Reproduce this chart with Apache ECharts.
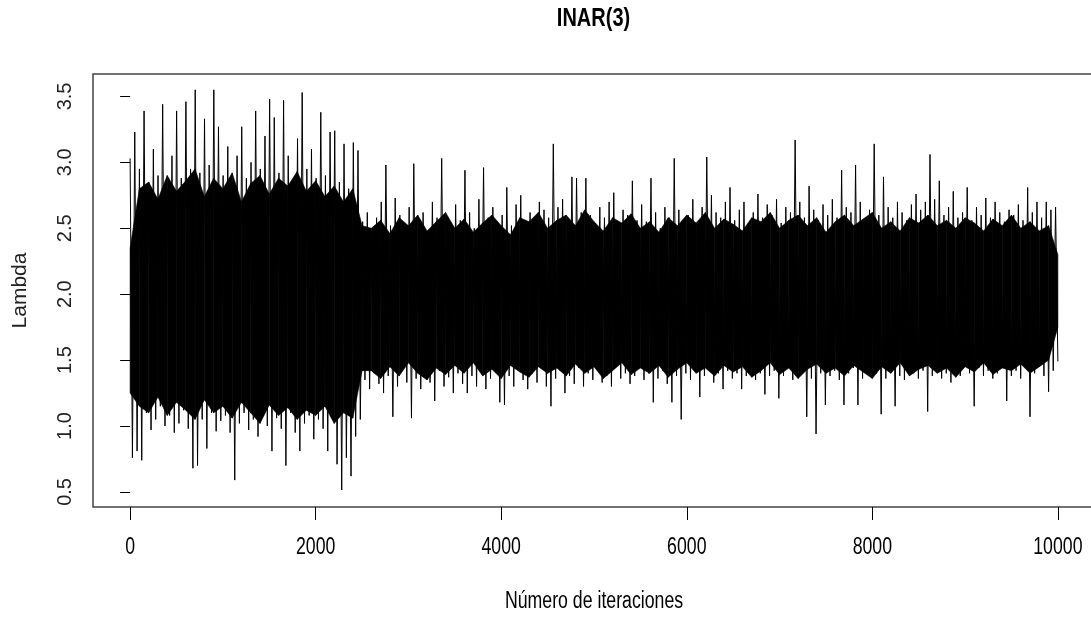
<!DOCTYPE html>
<html>
<head>
<meta charset="utf-8">
<title>INAR(3)</title>
<script src="https://cdn.jsdelivr.net/npm/echarts@6.0.0/dist/echarts.min.js"></script>
<style>
  html, body { margin: 0; padding: 0; background: #fff; }
  #chart { width: 1091px; height: 617px; }
</style>
</head>
<body>
<div id="chart"></div>
<script>
// trace of lambda: one high and one low value per 50 iterations
var upperTrace = [
  3.03, 3.23, 2.95, 3.39, 2.85, 3.10, 2.90, 3.44, 2.80, 3.05,
  3.39, 2.88, 3.46, 2.95, 3.55, 2.92, 3.33, 2.98, 3.55, 3.27,
  2.90, 3.12, 2.85, 3.05, 3.27, 2.88, 3.00, 3.39, 2.95, 3.20,
  3.48, 3.34, 2.92, 3.47, 3.05, 2.85, 3.18, 3.53, 2.95, 3.10,
  2.88, 3.38, 2.90, 3.23, 3.24, 2.85, 3.14, 2.80, 3.15, 3.09,
  2.55, 2.62, 2.48, 2.58, 2.70, 2.98, 2.52, 2.73, 2.60, 2.50,
  2.66, 2.99, 2.55, 2.62, 2.48, 2.70, 2.58, 3.03, 2.60, 2.52,
  2.68, 2.56, 2.94, 2.62, 2.50, 2.72, 2.96, 2.58, 2.66, 2.54,
  2.60, 2.81, 2.52, 2.68, 2.75, 2.56, 2.62, 2.50, 2.70, 2.64,
  2.58, 3.14, 2.66, 2.72, 2.55, 2.89, 2.88, 2.62, 2.88, 2.60,
  2.54, 2.66, 2.58, 2.70, 2.77, 2.52, 2.64, 2.60, 2.86, 2.56,
  2.68, 2.55, 2.88, 2.62, 2.50, 2.66, 2.58, 3.03, 2.64, 2.56,
  2.60, 2.72, 2.54, 2.66, 3.04, 2.75, 2.62, 2.58, 2.70, 2.81,
  2.56, 2.64, 2.70, 2.52, 2.62, 2.76, 2.58, 2.68, 2.60, 2.72,
  2.54, 2.66, 2.62, 3.17, 2.70, 2.58, 2.82, 2.64, 2.56, 2.68,
  2.60, 2.72, 2.58, 2.94, 2.66, 2.62, 2.98, 2.70, 2.56, 2.64,
  3.14, 2.60, 2.89, 2.66, 2.58, 2.70, 2.62, 2.56, 2.68, 2.76,
  2.64, 2.70, 3.06, 2.72, 2.86, 2.60, 2.66, 2.78, 2.58, 2.62,
  2.81, 2.56, 2.66, 2.60, 2.73, 2.58, 2.70, 2.62, 2.55, 2.64,
  2.60, 2.68, 2.56, 2.81, 2.62, 2.70, 2.58, 2.70, 2.64, 2.66
];
var lowerTrace = [
  0.76, 0.81, 0.74, 1.10, 0.97, 1.05, 1.15, 1.00, 1.08, 0.95,
  1.02, 1.12, 0.98, 0.68, 0.70, 1.05, 0.83, 1.10, 0.96, 1.04,
  1.08, 0.95, 0.59, 1.02, 1.10, 0.97, 1.05, 0.92, 1.12, 1.00,
  0.81, 1.06, 0.98, 0.70, 1.10, 0.95, 0.81, 1.02, 1.08, 0.90,
  1.05, 0.98, 0.81, 1.10, 0.71, 0.515, 0.76, 0.62, 0.92, 1.05,
  1.35, 1.28, 1.40, 1.32, 1.25, 1.38, 1.07, 1.30, 1.42, 1.33,
  1.06, 1.36, 1.28, 1.40, 1.33, 1.19, 1.42, 1.30, 1.37, 1.25,
  1.40, 1.32, 1.25, 1.38, 1.30, 1.44, 1.28, 1.36, 1.42, 1.18,
  1.16, 1.38, 1.30, 1.42, 1.35, 1.28, 1.40, 1.33, 1.45, 1.30,
  1.15, 1.36, 1.42, 1.25, 1.38, 1.32, 1.44, 1.30, 1.40, 1.35,
  1.42, 1.33, 1.38, 1.30, 1.45, 1.36, 1.40, 1.32, 1.38, 1.44,
  1.35, 1.40, 1.18, 1.36, 1.42, 1.32, 1.18, 1.38, 1.05, 1.40,
  1.35, 1.42, 1.22, 1.38, 1.45, 1.33, 1.40, 1.28, 1.42, 1.36,
  1.40, 1.28, 1.38, 1.44, 1.35, 1.40, 1.24, 1.38, 1.42, 1.21,
  1.38, 1.44, 1.35, 1.40, 1.42, 1.07, 1.36, 0.94, 1.40, 1.16,
  1.38, 1.42, 1.35, 1.16, 1.40, 1.44, 1.16, 1.36, 1.42, 1.38,
  1.40, 1.09, 1.36, 1.42, 1.15, 1.38, 1.35, 1.44, 1.40, 1.36,
  1.42, 1.11, 1.38, 1.44, 1.36, 1.40, 1.33, 1.42, 1.38, 1.45,
  1.40, 1.15, 1.44, 1.38, 1.42, 1.36, 1.40, 1.45, 1.19, 1.38,
  1.42, 1.36, 1.44, 1.07, 1.40, 1.45, 1.38, 1.26, 1.42, 1.49
];

// solid black core of the trace, one top and one bottom value per 100 iterations
var coreTop = [
  2.35, 2.80, 2.85, 2.72, 2.90, 2.78, 2.86, 2.95, 2.74, 2.88,
  2.80, 2.92, 2.70, 2.84, 2.90, 2.76, 2.88, 2.82, 2.93, 2.78,
  2.86, 2.74, 2.82, 2.70, 2.80, 2.52,
  2.50, 2.56, 2.46, 2.58, 2.52, 2.60, 2.48, 2.55, 2.62, 2.50,
  2.57, 2.47, 2.54, 2.60, 2.52, 2.45, 2.58, 2.55, 2.62, 2.50,
  2.56, 2.60, 2.52, 2.64, 2.55, 2.48, 2.58, 2.54, 2.61, 2.50,
  2.55, 2.47, 2.58, 2.52, 2.60, 2.54, 2.62, 2.50, 2.57, 2.53,
  2.48, 2.58, 2.55, 2.62, 2.50, 2.56, 2.60, 2.52, 2.58, 2.47,
  2.55, 2.60, 2.52, 2.57, 2.62, 2.50, 2.55, 2.48, 2.58, 2.54,
  2.60, 2.52, 2.56, 2.50, 2.58, 2.54, 2.48, 2.57, 2.52, 2.60,
  2.50, 2.55, 2.48, 2.52, 2.30
];
var coreBottom = [
  1.25, 1.15, 1.10, 1.22, 1.08, 1.18, 1.12, 1.05, 1.20, 1.10,
  1.15, 1.06, 1.18, 1.10, 1.02, 1.16, 1.08, 1.14, 1.05, 1.12,
  1.08, 1.15, 1.02, 1.10, 1.06, 1.42,
  1.42, 1.36, 1.45, 1.38, 1.48, 1.40, 1.35, 1.44, 1.39, 1.46,
  1.40, 1.48, 1.38, 1.43, 1.36, 1.46, 1.41, 1.37, 1.45, 1.40,
  1.44, 1.38, 1.47, 1.40, 1.45, 1.36, 1.42, 1.48, 1.39, 1.44,
  1.40, 1.46, 1.37, 1.43, 1.48, 1.40, 1.44, 1.38, 1.46, 1.41,
  1.45, 1.37, 1.42, 1.48, 1.39, 1.44, 1.36, 1.43, 1.47, 1.40,
  1.44, 1.38, 1.46, 1.41, 1.36, 1.45, 1.40, 1.48, 1.38, 1.43,
  1.46, 1.40, 1.44, 1.37, 1.45, 1.41, 1.48, 1.39, 1.44, 1.42,
  1.47, 1.40, 1.45, 1.50, 1.75
];

var xTicks = [0, 2000, 4000, 6000, 8000, 10000];
var yTicks = [0.5, 1.0, 1.5, 2.0, 2.5, 3.0, 3.5];

var nIter = 10000;
var traceData = [];
var nPts = upperTrace.length * 2;
for (var k = 0; k < upperTrace.length; k++) {
  traceData.push([(2 * k) * nIter / (nPts - 1), upperTrace[k]]);
  traceData.push([(2 * k + 1) * nIter / (nPts - 1), lowerTrace[k]]);
}
var coreStep = nIter / (coreTop.length - 1);
var coreData = coreTop.map(function (t, i) { return [i * coreStep, t, coreBottom[i]]; });

var sans = "'Liberation Sans', Arial, sans-serif";
var squeeze = 0.77; // the picture's horizontal text is narrow

var chart = echarts.init(document.getElementById('chart'));
var option = {
  backgroundColor: '#fff',
  animation: false,
  grid: {
    show: true,
    left: 93,
    right: -4,
    top: 74,
    bottom: 110,
    borderColor: '#444',
    borderWidth: 1.5,
    outerBoundsMode: 'none'
  },
  xAxis: {
    type: 'value',
    min: -400,
    max: 10400,
    axisLine: { show: false },
    splitLine: { show: false },
    axisTick: { show: true, inside: false, length: 13, customValues: xTicks, lineStyle: { color: '#000', width: 1 } },
    axisLabel: { show: false }
  },
  yAxis: {
    type: 'value',
    min: 0.386,
    max: 3.67,
    name: 'Lambda',
    nameLocation: 'middle',
    nameRotate: 90,
    nameGap: 62,
    nameTextStyle: { fontFamily: sans, fontSize: 21, color: '#222' },
    axisLine: { show: false },
    splitLine: { show: false },
    axisTick: { show: true, inside: false, length: 10, customValues: yTicks, lineStyle: { color: '#000', width: 1 } },
    axisLabel: {
      customValues: yTicks,
      rotate: 90,
      margin: 18,
      fontFamily: sans,
      fontSize: 20,
      color: '#222',
      formatter: function (v) { return v.toFixed(1); }
    }
  },
  series: [
    {
      type: 'custom',
      data: coreData,
      encode: { x: 0, y: [1, 2] },
      clip: true,
      silent: true,
      z: 1,
      renderItem: function (params, api) {
        var i = params.dataIndex;
        if (i >= coreData.length - 1) return null;
        var a = coreData[i], b = coreData[i + 1];
        return {
          type: 'polygon',
          shape: { points: [
            api.coord([a[0], a[1]]),
            api.coord([b[0], b[1]]),
            api.coord([b[0], b[2]]),
            api.coord([a[0], a[2]])
          ] },
          style: { fill: '#000', stroke: '#000', lineWidth: 0.6 }
        };
      }
    },
    {
      type: 'line',
      name: 'lambda',
      data: traceData,
      symbol: 'none',
      sampling: null,
      lineStyle: { color: '#000', width: 1 },
      z: 2
    }
  ]
};
chart.setOption(option);

// narrow texts: title, x tick labels and x axis name
var texts = [];
texts.push({
  type: 'text', x: 593.5, y: 19.5, scaleX: squeeze + 0.03,
  style: { text: 'INAR(3)', font: 'bold 25px ' + sans, fill: '#000', align: 'center', verticalAlign: 'middle' }
});
xTicks.forEach(function (v) {
  var px = chart.convertToPixel({ xAxisIndex: 0 }, v);
  texts.push({
    type: 'text', x: px, y: 547.5, scaleX: squeeze,
    style: { text: String(v), font: '23px ' + sans, fill: '#000', align: 'center', verticalAlign: 'middle' }
  });
});
texts.push({
  type: 'text', x: chart.convertToPixel({ xAxisIndex: 0 }, 5000), y: 602, scaleX: squeeze,
  style: { text: 'Número de iteraciones', font: '23px ' + sans, fill: '#000', align: 'center', verticalAlign: 'middle' }
});
chart.setOption({ graphic: texts });
</script>
</body>
</html>
